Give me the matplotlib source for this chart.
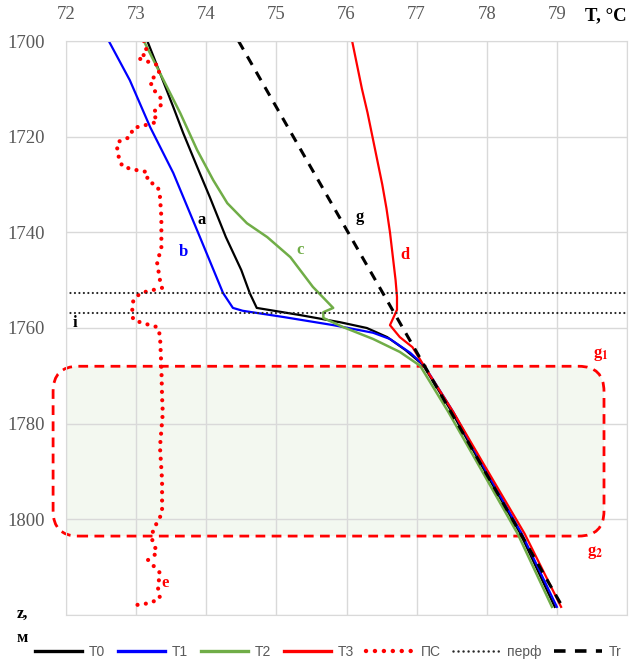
import matplotlib.pyplot as plt
from matplotlib.patches import FancyBboxPatch

plt.rcParams["mathtext.fontset"] = "stix"

# depth (m) and temperature (deg C)
z_t0 = [1700, 1706.7, 1713.8, 1719.2, 1726.3, 1732.6, 1741.0, 1747.9, 1752.7, 1755.8,
        1757.3, 1758.8, 1760.0, 1761.9, 1764.6, 1767.7, 1777.5, 1788.3, 1803.0, 1818.3]
t_t0 = [73.16, 73.34, 73.53, 73.67, 73.87, 74.05, 74.28, 74.50, 74.62, 74.72,
        75.34, 75.91, 76.29, 76.58, 76.84, 77.09, 77.50, 77.91, 78.48, 78.97]

z_t1 = [1700, 1708.2, 1718.0, 1727.6, 1741.0, 1752.7, 1755.8, 1756.4, 1757.7, 1759.4,
        1761.0, 1762.3, 1765.2, 1767.9, 1777.5, 1788.3, 1803.0, 1818.3]
t_t1 = [72.61, 72.91, 73.20, 73.53, 73.91, 74.24, 74.38, 74.52, 75.10, 75.81,
        76.38, 76.62, 76.91, 77.11, 77.52, 77.93, 78.50, 79.00]

z_t2 = [1700, 1706.7, 1715.1, 1722.8, 1729.1, 1733.9, 1738.1, 1741.0, 1745.2, 1751.4,
        1755.8, 1756.7, 1757.9, 1759.8, 1762.3, 1765.0, 1767.9, 1777.5, 1788.3, 1803.0, 1818.3]
t_t2 = [73.11, 73.34, 73.63, 73.87, 74.10, 74.30, 74.58, 74.87, 75.20, 75.52,
        75.81, 75.67, 75.67, 75.95, 76.38, 76.76, 77.05, 77.45, 77.87, 78.44, 78.93]

z_t3 = [1700, 1705, 1710, 1715, 1720, 1725, 1730, 1735, 1740, 1745, 1750, 1753.5,
        1756.2, 1759.4, 1761.9, 1764.0, 1767.3, 1777.5, 1788.3, 1803.0, 1818.3]
t_t3 = [76.08, 76.15, 76.22, 76.30, 76.37, 76.44, 76.51, 76.57, 76.62, 76.66, 76.70, 76.72,
        76.72, 76.62, 76.76, 76.94, 77.08, 77.52, 77.95, 78.54, 79.06]

z_ps = [1700.0, 1702.5, 1703.6, 1705.0, 1706.7, 1708.2, 1709.8, 1712.3, 1714.0, 1714.8,
        1716.9, 1717.6, 1718.2, 1720.1, 1721.1, 1722.4, 1724.9, 1726.3, 1727.0, 1727.4,
        1729.1, 1730.5, 1732.6, 1736.8, 1743.1, 1746.4, 1750.0, 1751.6, 1752.7, 1754.2,
        1756.9, 1758.3, 1759.0, 1759.8, 1761.5, 1768.2, 1774.4, 1777.8, 1784.9, 1791.8,
        1798.7, 1802.3, 1804.3, 1807.0, 1808.5, 1809.6, 1811.2, 1814.2, 1816.5, 1817.5, 1818.1]
t_ps = [73.11, 73.16, 73.03, 73.30, 73.33, 73.20, 73.23, 73.37, 73.34, 73.24,
        73.30, 73.13, 72.96, 72.91, 72.74, 72.73, 72.76, 72.81, 73.01, 73.16,
        73.16, 73.31, 73.34, 73.36, 73.36, 73.30, 73.34, 73.37, 73.06, 72.96,
        72.94, 72.96, 73.10, 73.30, 73.34, 73.36, 73.37, 73.38, 73.34, 73.37,
        73.37, 73.24, 73.23, 73.30, 73.17, 73.24, 73.34, 73.31, 73.34, 73.20, 72.91]

z_perf = [1752.6, 1756.8]
z_tr = [1700, 1818.8]
t_tr = [74.46, 79.10]

zone_top, zone_bottom = 1768.0, 1803.5

x_ticks = [72, 73, 74, 75, 76, 77, 78, 79, 80]
y_ticks = [1700, 1720, 1740, 1760, 1780, 1800, 1820]

fig = plt.figure(figsize=(6.36, 6.62), dpi=100)
ax = fig.add_axes([66 / 636, 1 - 615 / 662, 561 / 636, 574 / 662])
ax.set_xlim(72, 80)
ax.set_ylim(1820, 1700)

l0, = ax.plot(t_t0, z_t0, color="black", lw=1.6, label="T0")
l1, = ax.plot(t_t1, z_t1, color="#0000ff", lw=1.6, label="T1")
l2, = ax.plot(t_t2, z_t2, color="#70ad47", lw=1.8, label="T2")
l3, = ax.plot(t_t3, z_t3, color="#ff0000", lw=1.6, label="T3")
l4, = ax.plot(t_ps, z_ps, color="#ff0000", lw=3, ls=(0, (0.01, 2.0)),
              dash_capstyle="round", label="ПС")
l5 = None
for zp in z_perf:
    l5 = ax.axhline(zp, color="#262626", lw=1.6, ls=(0, (0.01, 2.0)),
                    dash_capstyle="round", label="перф")
l6, = ax.plot(t_tr, z_tr, color="black", lw=2.2, ls=(0, (3.2, 2.6)), label="Tr")

# productive zone: light fill clipped to the axes, dashed border unclipped
y0 = 1 - (zone_bottom - 1700) / 120
y1 = 1 - (zone_top - 1700) / 120
x0, x1 = -0.023, 0.959
box = dict(boxstyle="round,pad=0,rounding_size=0.045", mutation_aspect=0.977,
           transform=ax.transAxes)
fill = FancyBboxPatch((x0, y0), x1 - x0, y1 - y0, facecolor="#f3f8f0",
                      edgecolor="none", zorder=0.3, **box)
ax.add_patch(fill)
edge = FancyBboxPatch((x0, y0), x1 - x0, y1 - y0, facecolor="none",
                      edgecolor="#ff0000", lw=2, ls=(0, (3.5, 2.3)),
                      zorder=1.5, clip_on=False, **box)
ax.add_patch(edge)

ax.set_axisbelow(True)
ax.grid(True, color="#d9d9d9", lw=1)
for s in ax.spines.values():
    s.set_color("#d9d9d9")
ax.xaxis.tick_top()
ax.set_xticks(x_ticks)
ax.set_xticklabels([str(v) for v in x_ticks[:-1]] + [""])
ax.set_yticks(y_ticks)
ax.set_yticklabels([str(v) for v in y_ticks[:-1]] + [""])
ax.tick_params(length=0, labelcolor="#595959", labelsize=13.5)
ax.tick_params(axis="x", pad=13)
ax.tick_params(axis="y", pad=15)
for lab in ax.get_xticklabels() + ax.get_yticklabels():
    lab.set_family("Liberation Serif")

serif = dict(family="Liberation Serif", fontweight="bold", fontsize=12,
             ha="center", va="center")
ax.text(73.94, 1737.4, "a", color="black", **serif)
ax.text(73.67, 1744.1, "b", color="#0000ff", **serif)
ax.text(75.34, 1743.7, "c", color="#70ad47", **serif)
ax.text(76.84, 1744.7, "d", color="#ff0000", **serif)
ax.text(76.19, 1736.8, "g", color="black", **serif)
ax.text(72.13, 1759.0, "i", color="black", **serif)
ax.text(73.41, 1813.3, "e", color="#ff0000", **serif)
ax.text(79.62, 1765.6, r"g$_\mathbf{1}$", color="#ff0000", **serif)
ax.text(79.55, 1807.0, r"g$_\mathbf{2}$", color="#ff0000", **serif)

head = dict(serif, fontsize=13.5)
fig.text(606 / 636, 1 - 16 / 662, "T, °C", color="black", **head)
fig.text(22 / 636, 1 - 614 / 662, "z,", color="black", **serif)
fig.text(22 / 636, 1 - 638 / 662, "м", color="black", **serif)

leg = fig.legend(handles=[l0, l1, l2, l3, l4, l5, l6], loc="center",
                 bbox_to_anchor=(328 / 636, 1 - 652 / 662), ncol=7, frameon=False,
                 prop={"family": "Liberation Sans", "size": 10}, labelcolor="#595959",
                 handlelength=3.4, handletextpad=0.5, columnspacing=0.9)
for h, w in zip(leg.legend_handles, [2.4, 2.4, 2.4, 2.4, 3.2, 1.8, 2.6]):
    h.set_linewidth(w)

fig.savefig("out.png", dpi=100)
